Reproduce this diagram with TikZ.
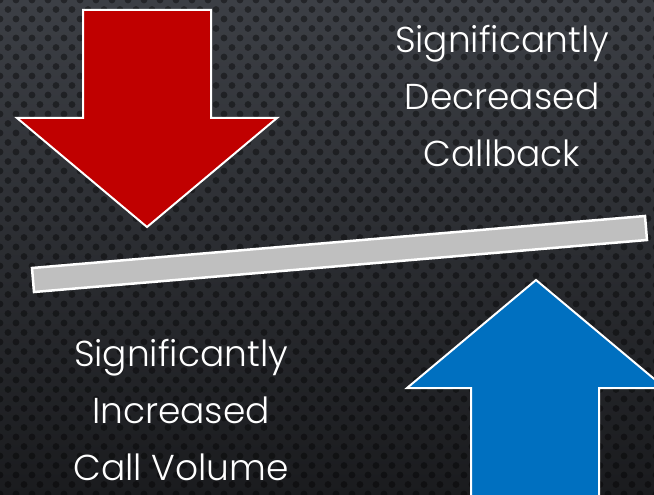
\documentclass[tikz,border=0pt]{standalone}
\usepackage{fontspec}
\setmainfont{Poppins}[UprightFont={* Light}]
\definecolor{bgtop}{HTML}{3C3F45}
\definecolor{bgbot}{HTML}{1A1B1E}
\definecolor{downred}{HTML}{C00000}
\definecolor{upblue}{HTML}{0070C0}
\definecolor{barfill}{HTML}{BFBFBF}
\begin{document}
\begin{tikzpicture}[x=1pt, y=-1pt,
  dot/.style={fill=black, opacity=.4},
  arrowshape/.style={draw=white, line width=2pt, line join=miter},
  bar/.style={draw=white, line width=2.5pt, fill=barfill},
  caption/.style={text=white, align=center, inner sep=0pt, font=\fontsize{36}{57}\selectfont}]
\useasboundingbox (0,0) rectangle (654,495);
\clip (0,0) rectangle (654,495);
% perforated background
\fill[top color=bgtop, bottom color=bgbot] (0,0) rectangle (654,495);
\foreach \r in {0,...,52}
  \foreach \c in {0,...,41}
    \fill[dot] ({\c*16+mod(\r,2)*8}, {\r*9.5}) circle (3.4);
% arrows
\draw[arrowshape, fill=downred] (83,10) -- (211,10) -- (211,118) -- (277,118)
  -- (147,227) -- (17,118) -- (83,118) -- cycle;
\draw[arrowshape, fill=upblue] (536,280) -- (665,388) -- (599,388) -- (599,510)
  -- (471,510) -- (471,388) -- (407,388) -- cycle;
% tilted bar
\draw[bar] (32,268) -- (645,216) -- (647,240) -- (34,292) -- cycle;
% captions
\node[caption] (decreased) at (502,96) {Significantly\\Decreased\\Callback};
\node[caption] (increased) at (181,410) {Significantly\\Increased\\Call Volume};
\end{tikzpicture}
\end{document}
